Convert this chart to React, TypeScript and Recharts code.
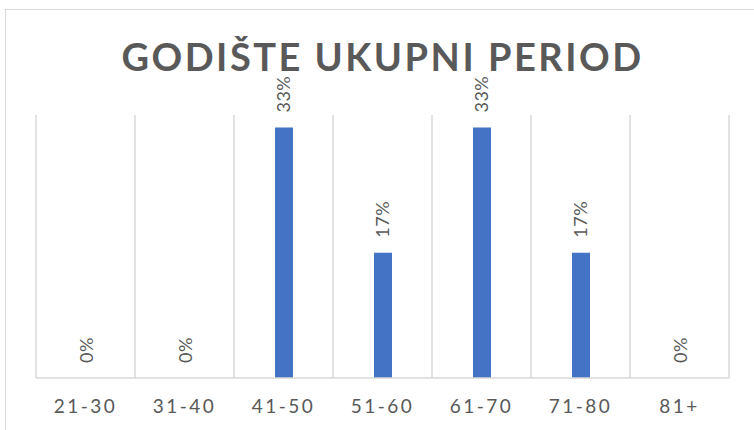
import React from 'react';
import { ComposedChart, Bar, Line, XAxis, YAxis, CartesianGrid, LabelList } from 'recharts';

const categories = ['21-30', '31-40', '41-50', '51-60', '61-70', '71-80', '81+'];
const shares = [0, 0, 33.33, 16.67, 33.33, 16.67, 0];

const chartData = categories.map((name, i) => ({ name, share: shares[i] }));

const FONT = 'Lato, "Open Sans", sans-serif';
const TEXT_GRAY = '#595959';
const LINE_GRAY = '#d9d9d9';

// rotated percentage label sitting above each bar (also for the 0% ones)
const RotatedLabel = (props: any) => {
  const { x, y, width, value } = props;
  const cx = width ? x + width / 2 : x;
  const startY = y - 15;
  return (
    <text
      x={cx}
      y={startY}
      transform={`rotate(-90, ${cx}, ${startY})`}
      textAnchor="start"
      dominantBaseline="central"
      fill={TEXT_GRAY}
      fontSize={18}
      fontFamily={FONT}
      letterSpacing={0.5}
    >
      {`${Math.round(value)}%`}
    </text>
  );
};

const App: React.FC = () => {
  return (
    <div style={{ position: 'absolute', left: 0, top: 0, width: 754, height: 430, overflow: 'hidden', background: '#fff' }}>
      <div
        style={{
          position: 'absolute',
          left: 5,
          top: 9,
          width: 800,
          height: 500,
          border: `1px solid ${LINE_GRAY}`,
        }}
      />
      <div
        style={{
          position: 'absolute',
          left: 36,
          width: 693,
          top: 33,
          textAlign: 'center',
          fontFamily: FONT,
          fontWeight: 700,
          fontSize: 38,
          letterSpacing: 2.5,
          color: TEXT_GRAY,
          lineHeight: '46px',
        }}
      >
        GODIŠTE UKUPNI PERIOD
      </div>
      <div style={{ position: 'absolute', left: 0, top: 0 }}>
        <ComposedChart
          width={754}
          height={430}
          data={chartData}
          margin={{ top: 115, right: 25, bottom: 22, left: 36 }}
        >
          <CartesianGrid
            horizontal={false}
            stroke={LINE_GRAY}
            strokeWidth={1.5}
            verticalCoordinatesGenerator={({ offset }: any) =>
              categories.map((_, i) => offset.left + (i * offset.width) / categories.length).concat(offset.left + offset.width)
            }
          />
          <XAxis
            dataKey="name"
            height={30}
            axisLine={{ stroke: LINE_GRAY, strokeWidth: 1.5 }}
            tickLine={false}
            tickMargin={16}
            tick={{ fill: TEXT_GRAY, fontSize: 19, fontFamily: FONT, letterSpacing: 2.5 }}
          />
          <YAxis hide domain={[0, 35]} width={0} />
          <Bar dataKey="share" fill="#4472C4" barSize={18} isAnimationActive={false} />
          <Line
            dataKey="share"
            stroke="none"
            dot={false}
            activeDot={false}
            legendType="none"
            isAnimationActive={false}
          >
            <LabelList dataKey="share" content={RotatedLabel} />
          </Line>
        </ComposedChart>
      </div>
    </div>
  );
};

export default App;
